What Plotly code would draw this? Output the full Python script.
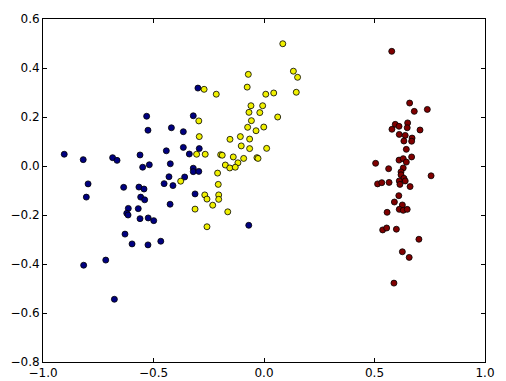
import plotly.graph_objects as go

navy_x = [-0.531, -0.320, -0.525, -0.419, -0.365, -0.365, -0.442, -0.293, -0.338, -0.904,
          -0.818, -0.685, -0.665, -0.561, -0.519, -0.549, -0.424, -0.320, -0.320, -0.295,
          -0.430, -0.359, -0.452, -0.412, -0.796, -0.804, -0.635, -0.566, -0.543, -0.558,
          -0.540, -0.312, -0.425, -0.614, -0.569, -0.621, -0.615, -0.561, -0.524, -0.499,
          -0.629, -0.597, -0.525, -0.467, -0.816, -0.716, -0.677, -0.299, -0.069]
navy_y = [0.203, 0.205, 0.146, 0.156, 0.140, 0.076, 0.062, 0.071, 0.049, 0.048,
          0.026, 0.034, 0.023, 0.045, 0.005, -0.005, 0.009, -0.009, -0.023, -0.022,
          -0.044, -0.045, -0.072, -0.080, -0.073, -0.127, -0.087, -0.086, -0.094, -0.127,
          -0.138, -0.114, -0.156, -0.173, -0.174, -0.193, -0.200, -0.215, -0.212, -0.223,
          -0.278, -0.318, -0.322, -0.307, -0.405, -0.384, -0.544, 0.318, -0.242]

yellow_x = [-0.295, -0.293, -0.305, -0.266, -0.196, -0.189, -0.377, -0.210, -0.207, -0.268,
            -0.258, -0.205, -0.205, -0.232, -0.312, -0.258, 0.085, -0.071, 0.133, 0.152,
            -0.076, 0.146, -0.271, -0.216, 0.008, 0.044, -0.059, -0.006, -0.068, -0.019,
            0.062, -0.057, -0.074, -0.036, -0.001, -0.154, -0.107, -0.065, -0.103, -0.065,
            0.012, -0.139, -0.092, -0.032, -0.027, -0.118, -0.175, -0.155, -0.130, -0.164]
yellow_y = [0.184, 0.120, 0.048, 0.048, 0.046, 0.044, -0.062, -0.029, -0.075, -0.118,
            -0.135, -0.118, -0.136, -0.160, -0.176, -0.248, 0.499, 0.374, 0.387, 0.362,
            0.322, 0.301, 0.313, 0.293, 0.293, 0.298, 0.246, 0.246, 0.219, 0.218,
            0.200, 0.185, 0.158, 0.144, 0.159, 0.109, 0.120, 0.110, 0.082, 0.071,
            0.072, 0.037, 0.031, 0.034, 0.031, 0.013, 0.004, -0.008, -0.005, -0.187]

red_x = [0.578, 0.659, 0.680, 0.739, 0.594, 0.611, 0.579, 0.650, 0.648, 0.706,
         0.612, 0.639, 0.670, 0.633, 0.668, 0.644, 0.668, 0.611, 0.630, 0.644,
         0.505, 0.564, 0.630, 0.620, 0.756, 0.620, 0.633, 0.639, 0.612, 0.615,
         0.514, 0.533, 0.566, 0.661, 0.610, 0.590, 0.626, 0.612, 0.630, 0.648,
         0.557, 0.537, 0.555, 0.599, 0.701, 0.626, 0.657, 0.588]
red_y = [0.468, 0.257, 0.223, 0.231, 0.170, 0.162, 0.150, 0.176, 0.156, 0.147,
         0.129, 0.125, 0.114, 0.102, 0.101, 0.068, 0.037, 0.024, 0.030, 0.016,
         0.011, -0.011, -0.008, -0.024, -0.040, -0.036, -0.050, -0.061, -0.061, -0.075,
         -0.073, -0.068, -0.067, -0.084, -0.121, -0.147, -0.159, -0.177, -0.181, -0.177,
         -0.189, -0.261, -0.253, -0.258, -0.299, -0.350, -0.373, -0.478]

x_ticks = [-1.0, -0.5, 0.0, 0.5, 1.0]
x_tick_text = ["\u22121.0", "\u22120.5", "0.0", "0.5", "1.0"]
y_ticks = [-0.8, -0.6, -0.4, -0.2, 0.0, 0.2, 0.4, 0.6]
y_tick_text = ["\u22120.8", "\u22120.6", "\u22120.4", "\u22120.2", "0.0", "0.2", "0.4", "0.6"]

fig = go.Figure()
for xs, ys, col in [(navy_x, navy_y, "#000080"), (yellow_x, yellow_y, "#f0f000"), (red_x, red_y, "#800000")]:
    fig.add_trace(go.Scatter(
        x=xs, y=ys, mode="markers",
        marker=dict(size=6, color=col, line=dict(color="black", width=0.8)),
        showlegend=False,
    ))

axis_common = dict(
    showline=True, linecolor="black", linewidth=1, mirror="allticks",
    ticks="inside", ticklen=4, tickcolor="black", tickwidth=1,
    showgrid=False, zeroline=False, automargin=False,
    tickfont=dict(family="DejaVu Sans", size=12, color="black"),
)

fig.update_layout(
    width=506, height=381,
    margin=dict(l=43, r=21, t=19, b=19),
    paper_bgcolor="white", plot_bgcolor="white",
    xaxis=dict(range=[-1.0, 1.0], tickvals=x_ticks, ticktext=x_tick_text, **axis_common),
    yaxis=dict(range=[-0.8, 0.6], tickvals=y_ticks, ticktext=y_tick_text, **axis_common),
)

fig.write_html("out.html")
